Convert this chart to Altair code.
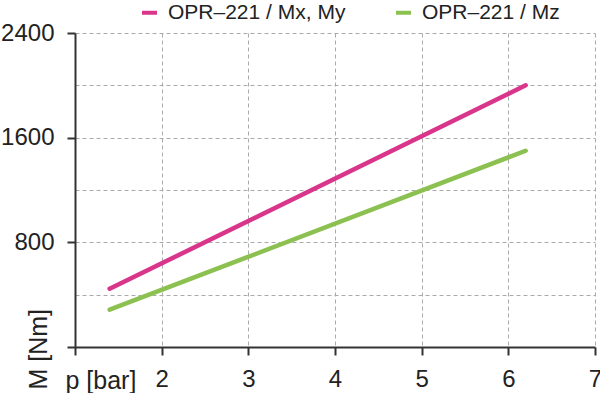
import altair as alt
import pandas as pd

pressure = [1.4, 6.2]
moment_mx_my = [445, 2000]
moment_mz = [285, 1500]
series_names = ["OPR–221 / Mx, My", "OPR–221 / Mz"]
series_colors = ["#d9358a", "#8cc152"]
x_ticks = [1, 2, 3, 4, 5, 6, 7]
y_ticks = [0, 400, 800, 1200, 1600, 2000, 2400]

rows = []
for p, v in zip(pressure, moment_mx_my):
    rows.append({"p": p, "M": v, "series": series_names[0]})
for p, v in zip(pressure, moment_mz):
    rows.append({"p": p, "M": v, "series": series_names[1]})
df = pd.DataFrame(rows)

label_font = "Liberation Sans"
title_font = "Liberation Sans"

chart = alt.Chart(df).mark_line(strokeWidth=4.5, strokeCap="round").encode(
    x=alt.X(
        "p:Q",
        scale=alt.Scale(domain=[1, 7], nice=False),
        axis=alt.Axis(
            values=x_ticks,
            format="d",
            title="p [bar]",
            titleX=-10,
            titleY=41,
            titleAlign="left",
            titleBaseline="alphabetic",
            titleAngle=0,
            titleFont=title_font,
            titleFontSize=25,
            titleFontWeight="normal",
            titleColor="#222222",
            labelExpr="datum.value == 1 ? '' : datum.label",
            labelFont=label_font,
            labelFontSize=24,
            labelColor="#222222",
            labelPadding=12,
            tickSize=8,
            tickWidth=2,
            tickColor="#333333",
            domainColor="#333333",
            domainWidth=2,
            grid=True,
            gridColor="#aaaaaa",
            gridDash=[4, 3],
            gridWidth=1,
            labelFlush=False,
        ),
    ),
    y=alt.Y(
        "M:Q",
        scale=alt.Scale(domain=[0, 2400], nice=False),
        axis=alt.Axis(
            values=y_ticks,
            format="d",
            title="M [Nm]",
            titleAngle=270,
            titleX=-29,
            titleY=356,
            titleAlign="left",
            titleBaseline="alphabetic",
            titleFont=title_font,
            titleFontSize=25,
            titleFontWeight="normal",
            titleColor="#222222",
            labelExpr="(datum.value % 800 == 0 && datum.value > 0) ? datum.label : ''",
            labelFont=label_font,
            labelFontSize=24,
            labelColor="#222222",
            labelPadding=13,
            tickSize=8,
            tickWidth=2,
            tickColor="#333333",
            tickOpacity={"condition": {"test": "datum.value % 800 == 0", "value": 1}, "value": 0},
            domainColor="#333333",
            domainWidth=2,
            grid=True,
            gridColor="#aaaaaa",
            gridDash=[4, 3],
            gridWidth=1,
            labelFlush=False,
        ),
    ),
    color=alt.Color(
        "series:N",
        scale=alt.Scale(domain=series_names, range=series_colors),
        sort=series_names,
        legend=alt.Legend(
            title=None,
            orient="none",
            legendX=64,
            legendY=-31,
            direction="horizontal",
            symbolType="stroke",
            symbolSize=225,
            symbolStrokeWidth=4,
            labelFont=label_font,
            labelFontSize=21,
            labelColor="#222222",
            labelOffset=8,
            labelLimit=0,
            columnPadding=42,
            padding=0,
        ),
    ),
).properties(
    width=520,
    height=314,
    autosize=alt.AutoSizeParams(type="none"),
    padding={"left": 75, "top": 33, "right": 5, "bottom": 46},
).configure_view(stroke=None)

chart.save("out.html", embed_options={"renderer": "svg", "actions": False})
